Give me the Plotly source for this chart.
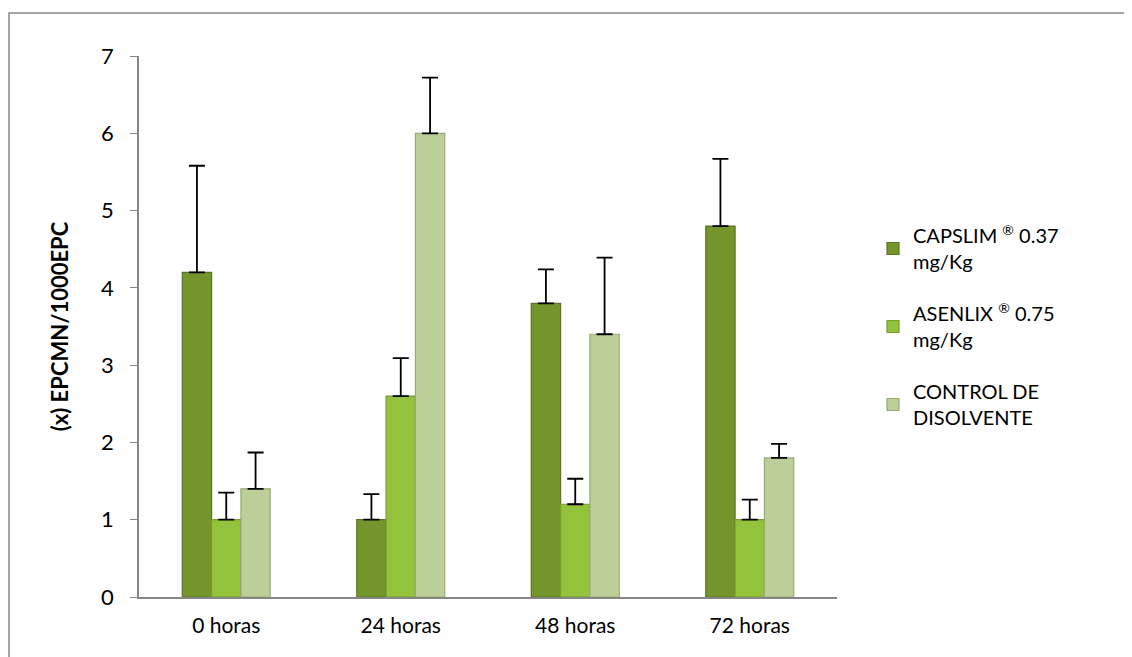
import plotly.graph_objects as go

categories = ["0 horas", "24 horas", "48 horas", "72 horas"]
series_names = ["CAPSLIM <sup>®</sup> 0.37<br>mg/Kg", "ASENLIX <sup>®</sup> 0.75<br>mg/Kg", "CONTROL DE<br>DISOLVENTE"]
capslim = [4.2, 1.0, 3.8, 4.8]
capslim_err = [1.38, 0.33, 0.44, 0.87]
asenlix = [1.0, 2.6, 1.2, 1.0]
asenlix_err = [0.35, 0.49, 0.33, 0.26]
control = [1.4, 6.0, 3.4, 1.8]
control_err = [0.47, 0.72, 0.99, 0.18]

fills = ["#74952c", "#93c23b", "#bccf98"]
edges = ["#5a7522", "#76a02a", "#98ab77"]

fig = go.Figure()
for i, (name, vals, errs) in enumerate(zip(series_names, [capslim, asenlix, control],
                                           [capslim_err, asenlix_err, control_err])):
    fig.add_trace(go.Bar(
        x=categories, y=vals, name=name, legendgroup=f"g{i}",
        marker=dict(color=fills[i], line=dict(color=edges[i], width=1.2)),
        error_y=dict(type="data", symmetric=False, array=errs, arrayminus=[0] * len(errs),
                     color="black", thickness=1.8, width=8),
    ))

# page body has an 8px offset; margins compensate
L, T, W, H = 131, 48, 698, 541
axis_color = "#868686"
fig.update_layout(
    width=1132, height=657,
    paper_bgcolor="white", plot_bgcolor="white",
    margin=dict(l=L, r=1132 - L - W, t=T, b=657 - T - H),
    barmode="group", bargap=0.496, bargroupgap=0,
    font=dict(family="Lato, Carlito, sans-serif", size=21, color="black"),
    showlegend=True,
    legend=dict(x=(873 - 8 - L) / W, y=(597 - 216) / 541, xanchor="left", yanchor="top",
                font=dict(size=20), tracegroupgap=23, itemwidth=30,
                bgcolor="rgba(0,0,0,0)"),
    xaxis=dict(showline=True, linecolor=axis_color, linewidth=1.5, ticks="",
               showgrid=False, tickfont=dict(size=21), ticklabelstandoff=9),
    yaxis=dict(range=[0, 7], dtick=1, showline=True, linecolor=axis_color, linewidth=1.5,
               ticks="outside", ticklen=7, tickcolor=axis_color, showgrid=False, zeroline=False,
               tickfont=dict(size=22), ticklabelstandoff=12,
               title=dict(text="<b>(x) EPCMN/1000EPC</b>", font=dict(size=22), standoff=26)),
    shapes=[dict(type="rect", xref="paper", yref="paper",
                 x0=(1 - L) / W, x1=1.6, y0=-0.3, y1=(T - 5) / H + 1,
                 line=dict(color="#888888", width=1.5), fillcolor="rgba(0,0,0,0)", layer="below")],
)

fig.write_html("out.html")
